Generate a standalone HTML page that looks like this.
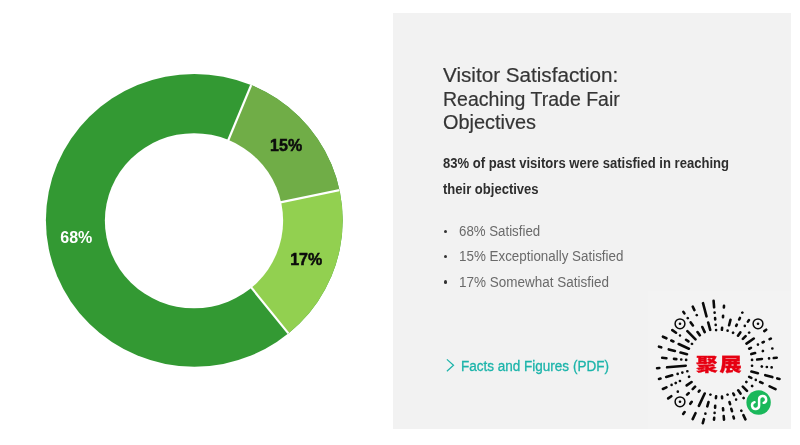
<!DOCTYPE html>
<html lang="en">
<head>
<meta charset="utf-8">
<title>Visitor Satisfaction: Reaching Trade Fair Objectives</title>
<style>
html,body{margin:0;padding:0;background:#fff;}
body{width:800px;height:445px;position:relative;overflow:hidden;font-family:"Liberation Sans","Noto Sans CJK SC",sans-serif;}
.panel{position:absolute;left:393px;top:13px;width:398px;height:415.7px;background:#f2f2f2;}
.qrbg{position:absolute;left:648px;top:291px;width:143px;height:137.7px;background:#f3f3f3;}
svg{position:absolute;left:0;top:0;}
.t{position:absolute;white-space:nowrap;line-height:20px;transform-origin:0 50%;margin:0;}
.h{font-size:20px;color:#353535;-webkit-text-stroke:0.2px #353535;left:443.3px;}
.b{font-size:14px;font-weight:bold;color:#2e2e2e;left:443px;}
.li{font-size:14px;color:#6a6a6a;left:459.4px;}
.dot{position:absolute;width:3.4px;height:3.4px;border-radius:50%;background:#333;left:443.8px;}
.lk{font-size:14px;color:#1cb4aa;left:461.1px;text-decoration:none;-webkit-text-stroke:0.3px #1cb4aa;}
.lab{font:bold 16px "Liberation Sans",sans-serif;}
.zh{stroke:#e60012;stroke-width:0.3px;font:900 18px "Noto Sans CJK SC","Liberation Sans",sans-serif;fill:#e60012;}
</style>
</head>
<body>
<div class="panel"></div>
<div class="qrbg"></div>
<svg width="800" height="445" viewBox="0 0 800 445">
<g id="donut"><defs><clipPath id="oc"><ellipse cx="194.3" cy="220.3" rx="148.4" ry="146.4"/></clipPath></defs><g clip-path="url(#oc)"><rect x="40" y="70" width="310" height="300" fill="#339933"/><polygon points="222.2,154.8 261.9,59.2 400,20 368.2,184.1 263.7,205.8" fill="#70ad47"/><polygon points="263.7,205.8 368.2,184.1 400,300 305.8,354.9 240.3,273.9" fill="#92d050"/><path d="M224.4 149.5L257.5 69.9" stroke="#fff" stroke-width="2.2"/><path d="M269.5 204.6L356.6 186.5" stroke="#fff" stroke-width="2.2"/><path d="M243.9 278.4L298.5 345.9" stroke="#fff" stroke-width="2.2"/></g><ellipse cx="194.0" cy="220.75" rx="89.15" ry="87.6" fill="#fff"/></g>
<text class="lab" x="60.3" y="243.1" fill="#fff">68%</text>
<text class="lab" x="270.1" y="151.1" fill="#0c0c0c" stroke="#0c0c0c" stroke-width="0.5">15%</text>
<text class="lab" x="290.2" y="265.1" fill="#0c0c0c" stroke="#0c0c0c" stroke-width="0.5">17%</text>
<g id="qr"><path d="M723.9 307.4L724.0 305.9M723.0 317.2L723.1 315.7M721.9 329.8L722.1 327.9M729.1 325.3L730.5 319.8M727.6 330.7L727.6 330.6M742.3 312.7L742.4 312.6M739.2 319.5L739.9 317.9M736.2 325.9L736.8 324.7M733.0 332.8L733.1 332.7M747.9 321.6L748.9 320.1M744.8 326.0L744.8 325.9M738.0 335.7L740.3 332.4M742.9 338.9L745.6 336.2M749.1 332.7L749.2 332.6M746.5 343.6L753.8 338.5M764.3 331.1L766.2 329.7M749.2 348.7L750.9 347.9M757.9 344.6L758.0 344.6M762.6 342.5L763.8 341.9M769.6 339.2L770.8 338.6M751.3 354.1L755.1 353.1M762.8 351.1L762.9 351.0M772.3 348.5L772.4 348.5M752.0 359.9L752.1 359.9M757.2 359.5L761.9 359.0M769.0 358.4L769.1 358.4M773.8 358.0L776.7 357.7M752.0 365.7L752.1 365.7M761.8 366.5L761.9 366.6M766.8 367.0L766.9 367.0M771.6 367.4L771.7 367.4M751.4 371.5L757.9 373.2M765.3 375.2L772.3 377.1M777.3 378.4L779.5 379.0M749.2 376.9L751.3 377.9M755.8 379.9L755.8 380.0M760.1 382.0L762.6 383.1M769.6 386.4L775.5 389.2M746.3 381.9L746.4 382.0M752.1 386.0L752.2 386.1M742.8 386.6L747.0 390.8M738.2 390.3L740.5 393.6M743.6 398.0L743.7 398.1M733.3 393.5L734.1 395.1M736.1 399.5L736.1 399.6M741.3 410.7L741.4 410.8M743.4 415.1L745.4 419.4M727.5 394.6L727.6 394.7M729.5 402.1L730.1 404.2M731.3 408.8L732.0 411.2M733.4 416.5L733.9 418.4M722.0 396.5L722.1 398.3M723.0 408.4L723.2 410.3M723.7 416.0L724.0 419.7M716.1 396.4L715.9 398.1M715.2 405.7L715.1 407.6M714.6 412.9L714.6 413.0M714.2 417.8L714.0 419.7M710.5 394.6L710.4 394.7M708.5 402.1L707.3 406.3M705.4 413.6L705.4 413.7M703.9 419.2L702.8 423.2M704.7 393.5L698.9 405.9M695.5 413.2L692.7 419.1M699.6 390.5L698.8 391.6M691.7 401.8L690.3 403.8M684.6 412.0L683.2 414.0M695.1 386.7L692.7 389.1M688.7 393.1L687.1 394.7M691.6 382.0L686.7 385.4M677.8 391.6L677.8 391.7M671.3 396.2L668.2 398.4M689.1 376.7L689.0 376.8M680.0 381.0L679.9 381.0M675.8 382.9L675.7 383.0M671.6 384.9L671.6 384.9M666.4 387.3L662.9 389.0M687.4 371.3L687.3 371.3M682.4 372.6L682.3 372.6M677.7 373.9L677.6 373.9M672.2 375.3L666.2 376.9M660.5 378.5L659.0 378.9M685.7 365.7L667.1 367.3M659.4 368.0L657.1 368.2M686.2 359.9L686.1 359.9M681.3 359.5L681.2 359.5M676.3 359.1L674.0 358.9M666.4 358.2L662.2 357.8M687.0 354.2L680.5 352.5M674.9 351.0L668.8 349.4M661.2 347.3L659.0 346.7M688.9 348.7L678.7 344.0M673.4 341.5L671.3 340.5M666.4 338.3L662.9 336.7M692.0 343.9L691.9 343.8M688.4 341.4L686.1 339.8M680.0 335.5L680.0 335.5M676.0 332.7L672.3 330.1M695.5 339.3L687.4 331.2M699.8 335.3L697.5 332.0M692.9 325.5L690.7 322.4M687.8 318.2L687.7 318.1M684.4 313.4L683.4 311.9M704.7 332.1L702.3 327.0M696.8 315.2L696.7 315.1M694.4 310.1L692.8 306.7M710.2 329.8L708.2 322.5M706.5 316.3L703.0 303.2M716.1 330.1L716.1 330.0M715.7 325.0L715.7 324.9M715.2 319.4L715.1 318.0M714.6 312.7L714.6 312.6M714.1 307.3L713.6 300.9" stroke="#0a0a0a" stroke-width="2.6" stroke-linecap="round" fill="none"/><circle cx="758.0" cy="323.8" r="4.9" fill="none" stroke="#0a0a0a" stroke-width="1.5"/><circle cx="758.0" cy="323.8" r="1.3" fill="#0a0a0a"/><circle cx="680.0" cy="401.8" r="4.9" fill="none" stroke="#0a0a0a" stroke-width="1.5"/><circle cx="680.0" cy="401.8" r="1.3" fill="#0a0a0a"/><circle cx="680.0" cy="323.8" r="4.9" fill="none" stroke="#0a0a0a" stroke-width="1.5"/><circle cx="680.0" cy="323.8" r="1.3" fill="#0a0a0a"/></g>
<text class="zh" x="0" y="0" transform="translate(696.0 370.9) scale(1.2 1)">聚</text>
<text class="zh" x="0" y="0" transform="translate(719.5 370.9) scale(1.232 1)">展</text>
<circle cx="758.6" cy="402.5" r="12.2" fill="#1ab85b"/>
<path transform="translate(758.6 402.5)" d="M5.1 0.32A3.5 3.5 0 1 0 0.5 -3L0.5 3A3.5 3.5 0 1 1 -4.1 -0.32" fill="none" stroke="#fff" stroke-width="2.5" stroke-linecap="round"/>
<path d="M446.9 359.4L453.5 365.3L446.9 371.2" fill="none" stroke="#1cb4aa" stroke-width="1.25"/>
</svg>
<h2 class="t h" style="top:65.1px;font-weight:normal;transform:scaleX(1.033)">Visitor Satisfaction:</h2>
<h2 class="t h" style="top:88.6px;font-weight:normal;transform:scaleX(0.9756)">Reaching Trade Fair</h2>
<h2 class="t h" style="top:112.1px;font-weight:normal;transform:scaleX(0.996)">Objectives</h2>
<p class="t b" style="top:153.4px;transform:scaleX(0.933)">83% of past visitors were satisfied in reaching</p>
<p class="t b" style="top:178.6px;transform:scaleX(0.931)">their objectives</p>
<span class="dot" style="top:230px"></span>
<span class="dot" style="top:255px"></span>
<span class="dot" style="top:280.3px"></span>
<p class="t li" style="top:221.4px;transform:scaleX(0.948)">68% Satisfied</p>
<p class="t li" style="top:246.4px;transform:scaleX(0.956)">15% Exceptionally Satisfied</p>
<p class="t li" style="top:271.7px;transform:scaleX(0.963)">17% Somewhat Satisfied</p>
<a class="t lk" style="top:355.6px;transform:scaleX(0.965)">Facts and Figures (PDF)</a>
</body>
</html>
